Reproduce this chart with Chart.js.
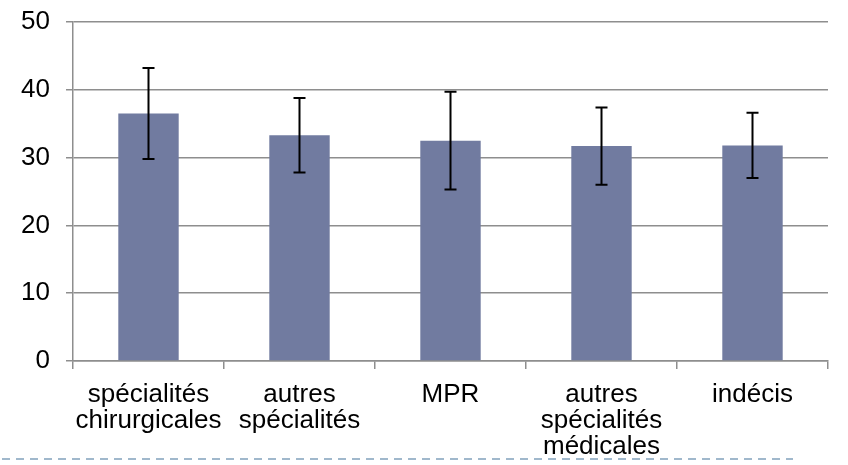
<!DOCTYPE html>
<html>
<head>
  <meta charset="utf-8">
  <script src="https://cdn.jsdelivr.net/npm/chart.js"></script>
  <style>
    body { margin: 0; background: #fff; }
  </style>
</head>
<body>
  <canvas id="barChart" width="848" height="465"></canvas>
  <script>
    // categories and values
    const categories = [
      ['spécialités', 'chirurgicales'],
      ['autres', 'spécialités'],
      'MPR',
      ['autres', 'spécialités', 'médicales'],
      'indécis'
    ];
    const means = [36.5, 33.3, 32.5, 31.7, 31.8];
    const errors = [6.7, 5.5, 7.2, 5.7, 4.8];
    const yTicks = [0, 10, 20, 30, 40, 50];

    const FONT = "'Liberation Sans', Arial, sans-serif";

    // draws the +/- error whiskers on top of each bar
    const errorBars = {
      id: 'errorBars',
      afterDatasetsDraw(chart) {
        const ctx = chart.ctx;
        const y = chart.scales.y;
        const meta = chart.getDatasetMeta(0);
        ctx.save();
        ctx.strokeStyle = '#000';
        ctx.lineWidth = 2;
        meta.data.forEach((bar, i) => {
          const top = y.getPixelForValue(means[i] + errors[i]);
          const bot = y.getPixelForValue(means[i] - errors[i]);
          ctx.beginPath();
          ctx.moveTo(bar.x, top); ctx.lineTo(bar.x, bot);
          ctx.moveTo(bar.x - 6, top); ctx.lineTo(bar.x + 6, top);
          ctx.moveTo(bar.x - 6, bot); ctx.lineTo(bar.x + 6, bot);
          ctx.stroke();
        });
        ctx.restore();
      }
    };

    // dashed separator line under the chart
    const footerLine = {
      id: 'footerLine',
      afterDraw(chart) {
        const ctx = chart.ctx;
        ctx.save();
        ctx.strokeStyle = '#a0b8cc';
        ctx.lineWidth = 2;
        ctx.setLineDash([8, 6]);
        ctx.beginPath();
        ctx.moveTo(2, 459);
        ctx.lineTo(793, 459);
        ctx.stroke();
        ctx.restore();
      }
    };

    new Chart(document.getElementById('barChart'), {
      type: 'bar',
      data: {
        labels: categories,
        datasets: [{
          data: means,
          backgroundColor: '#717ba0',
          barPercentage: 0.4,
          categoryPercentage: 1.0
        }]
      },
      options: {
        responsive: false,
        animation: false,
        layout: { padding: { top: 22, right: 20, left: 0, bottom: 0 } },
        plugins: {
          legend: { display: false },
          tooltip: { enabled: false }
        },
        scales: {
          y: {
            min: 0,
            max: 50,
            afterBuildTicks: s => { s.ticks = yTicks.map(v => ({ value: v })); },
            afterFit: s => { s.width = 73; s.paddingTop = 0; s.paddingBottom = 0; },
            border: { color: '#8e8e8e', width: 1.5 },
            grid: { color: '#8e8e8e', lineWidth: 1.5, tickLength: 7 },
            ticks: {
              color: '#000',
              padding: 16,
              font: { family: FONT, size: 26 }
            }
          },
          x: {
            afterFit: s => { s.height = 104; s.paddingLeft = 0; s.paddingRight = 0; },
            border: { color: '#8e8e8e', width: 1.5 },
            grid: { color: '#8e8e8e', lineWidth: 1.5, drawOnChartArea: false, tickLength: 8 },
            ticks: {
              color: '#000',
              padding: 13,
              maxRotation: 0,
              autoSkip: false,
              font: { family: FONT, size: 26, lineHeight: 1.0 }
            }
          }
        }
      },
      plugins: [errorBars, footerLine]
    });
  </script>
</body>
</html>
